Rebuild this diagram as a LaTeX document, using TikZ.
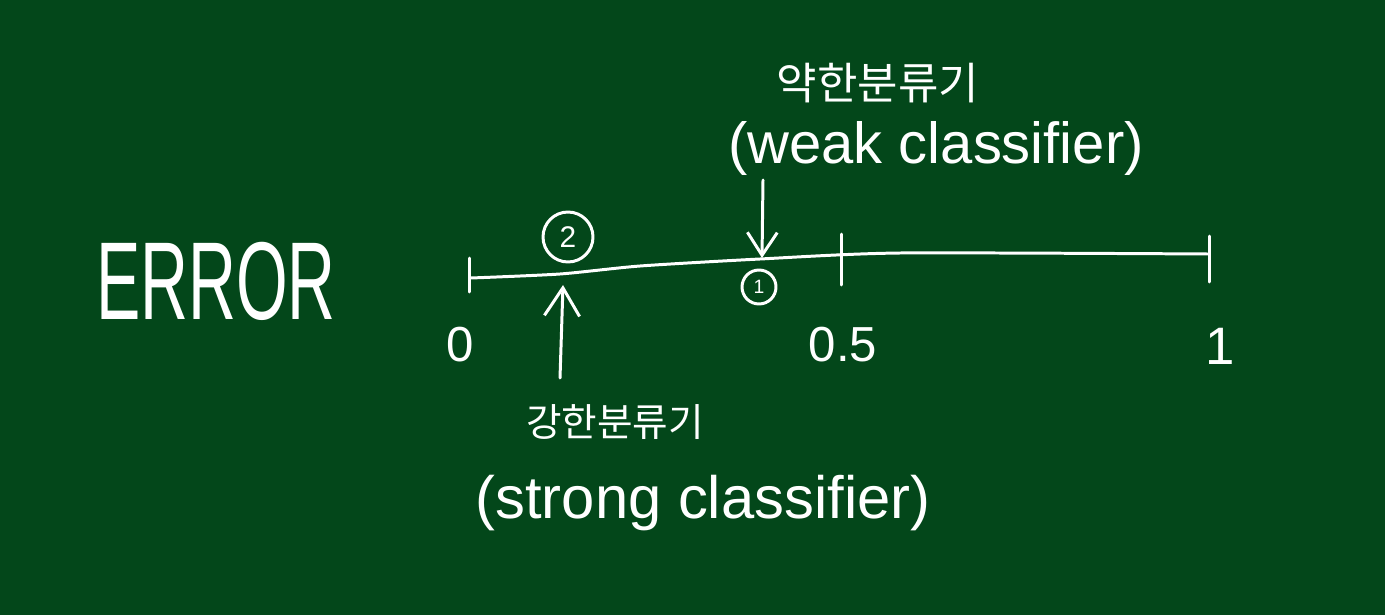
\documentclass[tikz,border=0pt]{standalone}
\usepackage{fontspec}
\setmainfont{Liberation Sans}
\newfontfamily\krfont{Noto Sans CJK KR}
\usetikzlibrary{arrows.meta}
\definecolor{board}{RGB}{3,71,26}
\begin{document}
\begin{tikzpicture}[x=0.02cm,y=-0.02cm,
  chalk/.style={draw=white, line width=1.7pt, line cap=round, line join=round},
  lbl/.style={text=white, inner sep=0pt},
  circ/.style={circle, chalk, text=white, inner sep=0pt},
  arr/.style={chalk, -{Straight Barb[length=13pt, width=17pt, line width=1.7pt]}}]
\fill[board] (0,0) rectangle (1385,615);
\useasboundingbox (0,0) rectangle (1385,615);

% ERROR
\node[lbl, font=\fontsize{63}{70}\selectfont, xscale=0.6] (err) at (216,281) {ERROR};

% number line
\draw[chalk] plot[smooth, tension=0.4] coordinates {(471,278) (560,274) (640,266) (760,259) (900,253) (1208,254)};
\draw[chalk] (469,258) -- (469,292);
\draw[chalk] (841,234) -- (841,285);
\draw[chalk] (1209,236) -- (1209,282);

% tick labels
\node[lbl, font=\fontsize{28}{32}\selectfont] (t0) at (460,345) {0};
\node[lbl, font=\fontsize{28}{32}\selectfont] (t5) at (843,345) {0.5};
\node[lbl, font=\fontsize{30}{34}\selectfont] (t1) at (1220,346) {1};

% circled markers
\node[circ, minimum size=1cm, font=\fontsize{17}{20}\selectfont] (c2) at (568,237) {2};
\node[circ, minimum size=0.68cm, font=\fontsize{11}{13}\selectfont] (c1) at (759,287) {1};

% weak classifier label
\node[lbl, font=\krfont\fontsize{25}{30}\selectfont] (wk) at (878,83) {약한분류기};
\node[lbl, font=\fontsize{33}{40}\selectfont, anchor=center] (we) at (936,148) {(weak classifier)};
\coordinate (wstart) at (763,180);
\coordinate (wtip) at (762,258);
\draw[arr] (wstart) -- (wtip);

% strong classifier label
\node[lbl, font=\krfont\fontsize{22}{26}\selectfont] (sk) at (615,422) {강한분류기};
\node[lbl, font=\fontsize{34}{40}\selectfont] (se) at (703,503) {(strong classifier)};
\coordinate (sstart) at (560,378);
\coordinate (stip) at (563,285);
\draw[arr, -{Straight Barb[length=16pt, width=20pt, line width=1.7pt]}] (sstart) -- (stip);
\end{tikzpicture}
\end{document}
